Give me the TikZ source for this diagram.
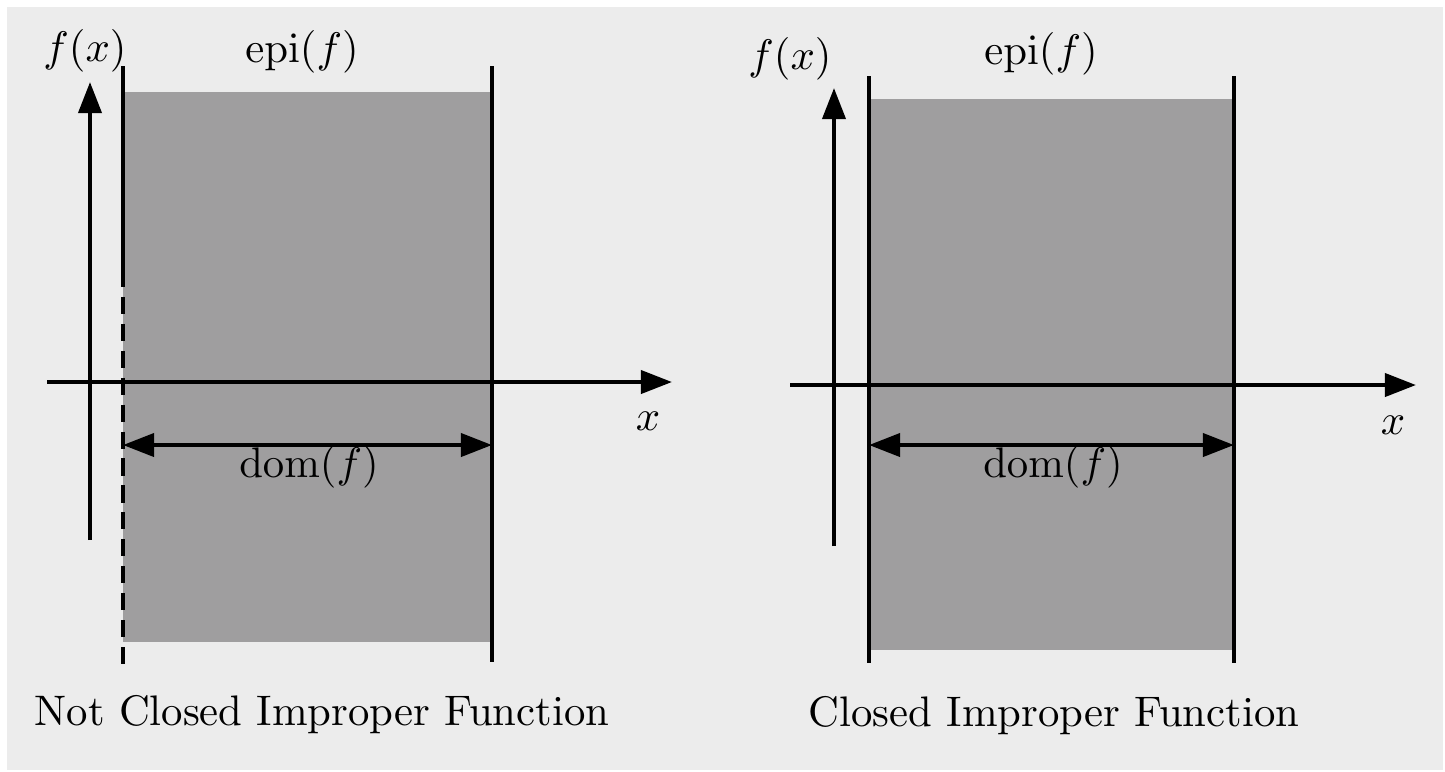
\documentclass[tikz,border=0pt]{standalone}
\usetikzlibrary{arrows.meta}
\definecolor{bgcol}{RGB}{236,236,236}
\definecolor{epicol}{RGB}{159,158,159}
\tikzset{
  ax/.style={line width=0.95pt,-{Triangle[length=7.3pt,width=5.4pt]}},
  span/.style={line width=0.95pt,{Triangle[length=7.3pt,width=5.4pt]}-{Triangle[length=7.3pt,width=5.4pt]}},
  bd/.style={line width=0.95pt},
  lbl/.style={inner sep=0pt}
}

\begin{document}
\begin{tikzpicture}[x=0.234pt,y=-0.234pt]
\useasboundingbox (0,0) rectangle (1445,771);
\fill[bgcol] (7,7) rectangle (1443,770);
% not closed
\coordinate (A1) at (90,540); \coordinate (B1) at (90,82); \coordinate (C1) at (47,382); \coordinate (D1) at (672,382);
\coordinate (P1) at (123,66); \coordinate (Q1) at (123,270); \coordinate (R1) at (123,665);
\coordinate (S1) at (492,66); \coordinate (T1) at (492,662);
\coordinate (L1) at (123,445); \coordinate (M1) at (492,445);
\fill[epicol] (123,92) rectangle (492,642);
\draw[ax] (A1)--(B1);
\draw[ax] (C1)--(D1);
\draw[bd] (P1)--(Q1);
\draw[bd,dash pattern=on 4pt off 2.3pt] (Q1)--(R1);
\draw[bd] (S1)--(T1);
\draw[span] (L1)--(M1);
\node[lbl] (fx1) at (85,51) {$f(x)$};
\node[lbl] (epi1) at (302,52) {$\mathrm{epi}(f)$};
\node[lbl] (dom1) at (309,467) {$\mathrm{dom}(f)$};
\node[lbl] (x1) at (648,421) {$x$};
\node[lbl] (cap1) at (322,715) {Not Closed Improper Function};
% closed
\coordinate (A2) at (834,546); \coordinate (B2) at (834,88); \coordinate (C2) at (790,385); \coordinate (D2) at (1416,385);
\coordinate (P2) at (869,76); \coordinate (R2) at (869,663);
\coordinate (S2) at (1234,76); \coordinate (T2) at (1234,663);
\coordinate (L2) at (869,445); \coordinate (M2) at (1234,445);
\fill[epicol] (869,99) rectangle (1234,650);
\draw[ax] (A2)--(B2);
\draw[ax] (C2)--(D2);
\draw[bd] (P2)--(R2);
\draw[bd] (S2)--(T2);
\draw[span] (L2)--(M2);
\node[lbl] (fx2) at (790,59) {$f(x)$};
\node[lbl] (epi2) at (1041,54) {$\mathrm{epi}(f)$};
\node[lbl] (dom2) at (1053,467) {$\mathrm{dom}(f)$};
\node[lbl] (x2) at (1393,425) {$x$};
\node[lbl] (cap2) at (1054,716) {Closed Improper Function};
\end{tikzpicture}
\end{document}
